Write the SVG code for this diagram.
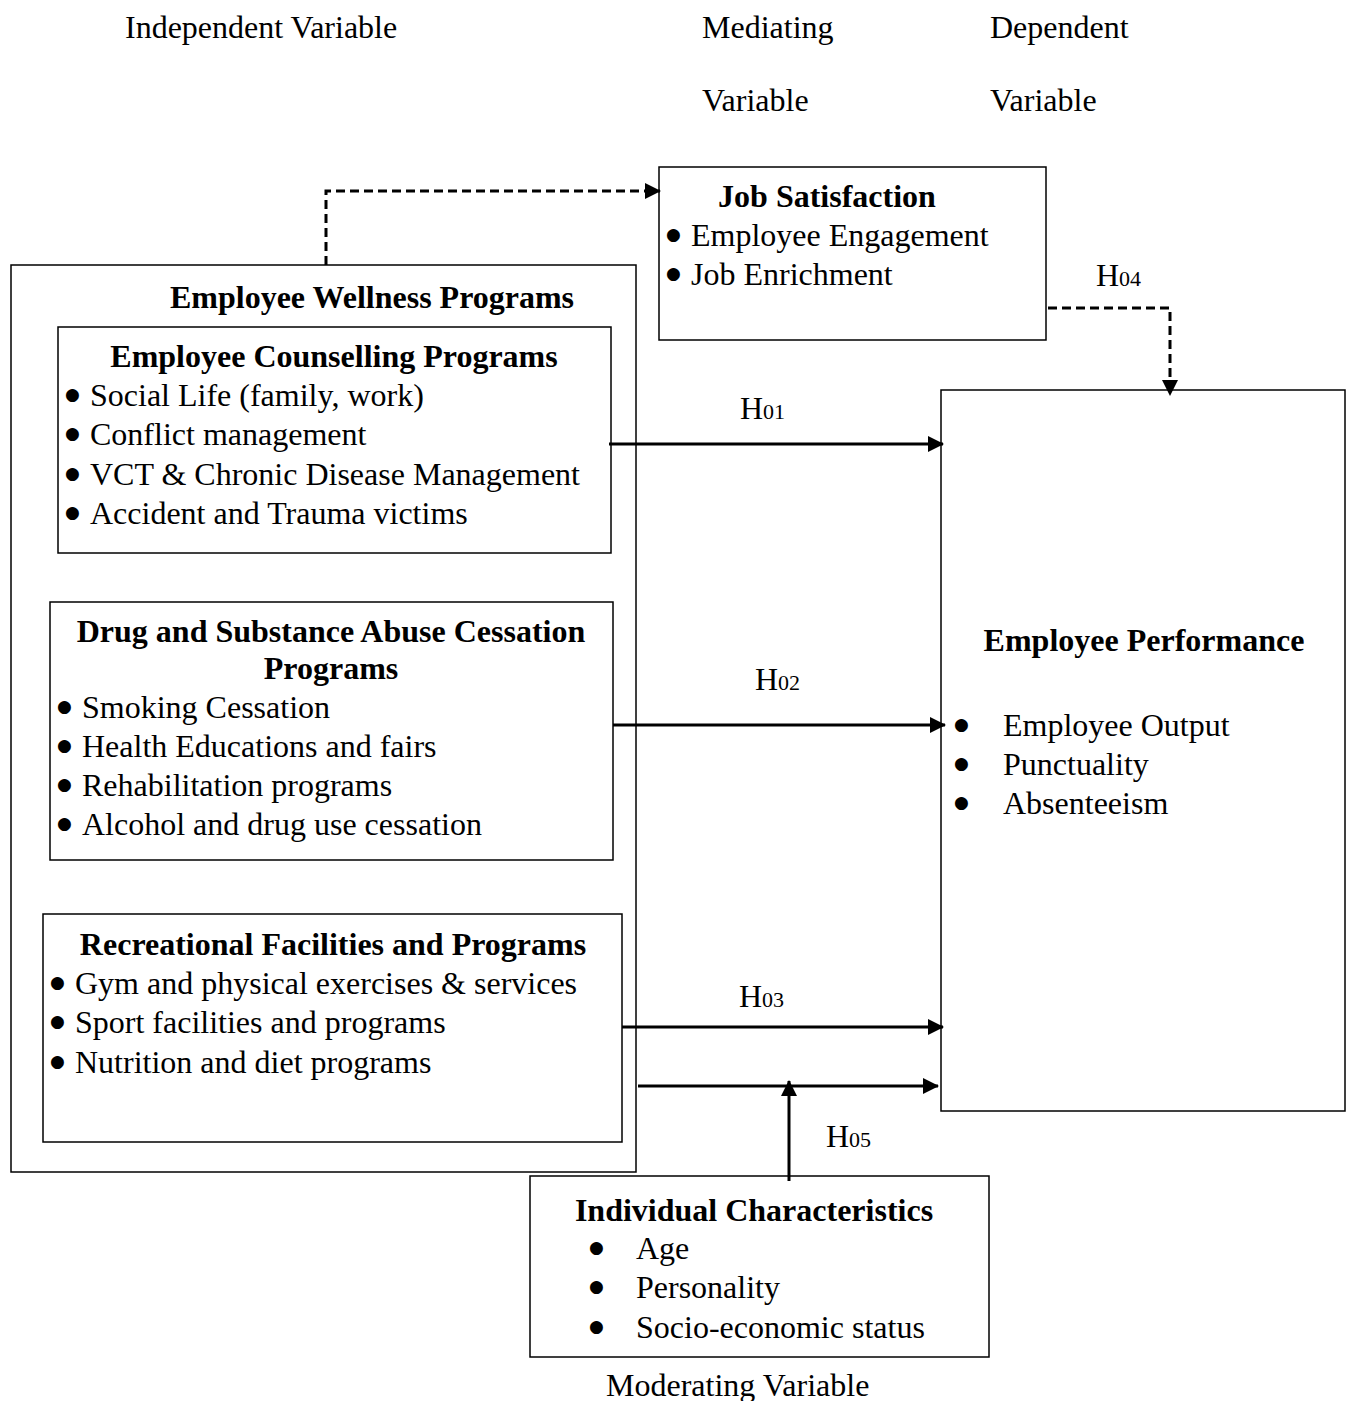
<svg xmlns="http://www.w3.org/2000/svg" width="1350" height="1401" viewBox="0 0 1350 1401">
<defs>
<style>
text{font-family:"Liberation Serif","Times New Roman",serif;font-size:32px;fill:#000}
.b{font-weight:bold}
.m{text-anchor:middle}
.sub{font-size:22px}
.bu{font-family:"DejaVu Sans",sans-serif;font-size:17px}
.box{fill:#fff;stroke:#000;stroke-width:1.5}
.ln{fill:none;stroke:#000;stroke-width:3}
.dash{fill:none;stroke:#000;stroke-width:3;stroke-dasharray:9,5}
</style>
<marker id="ahb" markerWidth="16" markerHeight="16" refX="15" refY="8" orient="auto" markerUnits="userSpaceOnUse" viewBox="0 0 16 16">
<path d="M0,0 L16,8 L0,16 z" fill="#000"/>
</marker>
</defs>
<rect width="1350" height="1401" fill="#fff"/>
<g id="labels">
<text x="125" y="38">Independent Variable</text>
<text x="702" y="38">Mediating</text>
<text x="702" y="111">Variable</text>
<text x="990" y="38">Dependent</text>
<text x="990" y="111">Variable</text>
<text x="606" y="1396">Moderating Variable</text>
</g>
<g id="wellness">
<rect class="box" x="11" y="265" width="625" height="907"/>
<text class="b m" x="372" y="308">Employee Wellness Programs</text>
</g>
<g id="counselling">
<rect class="box" x="58" y="327" width="553" height="226"/>
<text class="b m" x="334" y="367">Employee Counselling Programs</text>
<text class="bu" x="65" y="400">●</text><text x="90" y="406">Social Life (family, work)</text>
<text class="bu" x="65" y="439">●</text><text x="90" y="445">Conflict management</text>
<text class="bu" x="65" y="479">●</text><text x="90" y="485">VCT &amp; Chronic Disease Management</text>
<text class="bu" x="65" y="518">●</text><text x="90" y="524">Accident and Trauma victims</text>
</g>
<g id="drug">
<rect class="box" x="50" y="602" width="563" height="258"/>
<text class="b m" x="331" y="642">Drug and Substance Abuse Cessation</text>
<text class="b m" x="331" y="679">Programs</text>
<text class="bu" x="57" y="712">●</text><text x="82" y="718">Smoking Cessation</text>
<text class="bu" x="57" y="751">●</text><text x="82" y="757">Health Educations and fairs</text>
<text class="bu" x="57" y="790">●</text><text x="82" y="796">Rehabilitation programs</text>
<text class="bu" x="57" y="829">●</text><text x="82" y="835">Alcohol and drug use cessation</text>
</g>
<g id="recreational">
<rect class="box" x="43" y="914" width="579" height="228"/>
<text class="b m" x="333" y="955">Recreational Facilities and Programs</text>
<text class="bu" x="50" y="988">●</text><text x="75" y="994">Gym and physical exercises &amp; services</text>
<text class="bu" x="50" y="1027">●</text><text x="75" y="1033">Sport facilities and programs</text>
<text class="bu" x="50" y="1067">●</text><text x="75" y="1073">Nutrition and diet programs</text>
</g>
<g id="jobsat">
<rect class="box" x="659" y="167" width="387" height="173"/>
<text class="b m" x="827" y="207">Job Satisfaction</text>
<text class="bu" x="666" y="240">●</text><text x="691" y="246">Employee Engagement</text>
<text class="bu" x="666" y="279">●</text><text x="691" y="285">Job Enrichment</text>
</g>
<g id="performance">
<rect class="box" x="941" y="390" width="404" height="721"/>
<text class="b m" x="1144" y="651">Employee Performance</text>
<text class="bu" x="954" y="730">●</text><text x="1003" y="736">Employee Output</text>
<text class="bu" x="954" y="769">●</text><text x="1003" y="775">Punctuality</text>
<text class="bu" x="954" y="808">●</text><text x="1003" y="814">Absenteeism</text>
</g>
<g id="individual">
<rect class="box" x="530" y="1176" width="459" height="181"/>
<text class="b m" x="754" y="1221">Individual Characteristics</text>
<text class="bu" x="589" y="1253">●</text><text x="636" y="1259">Age</text>
<text class="bu" x="589" y="1292">●</text><text x="636" y="1298">Personality</text>
<text class="bu" x="589" y="1332">●</text><text x="636" y="1338">Socio-economic status</text>
</g>
<g id="connectors">
<path class="dash" d="M326,265 V191 H660" marker-end="url(#ahb)"/>
<path class="dash" d="M1048,308 H1170 V395" marker-end="url(#ahb)"/>
<path class="ln" d="M609,444 H943" marker-end="url(#ahb)"/>
<path class="ln" d="M613,725 H945" marker-end="url(#ahb)"/>
<path class="ln" d="M622,1027 H943" marker-end="url(#ahb)"/>
<path class="ln" d="M638,1086 H938" marker-end="url(#ahb)"/>
<path class="ln" d="M789,1181 V1081" marker-end="url(#ahb)"/>
<text x="740" y="419">H<tspan class="sub">01</tspan></text>
<text x="755" y="690">H<tspan class="sub">02</tspan></text>
<text x="739" y="1007">H<tspan class="sub">03</tspan></text>
<text x="1096" y="286">H<tspan class="sub">04</tspan></text>
<text x="826" y="1147">H<tspan class="sub">05</tspan></text>
</g>
</svg>
